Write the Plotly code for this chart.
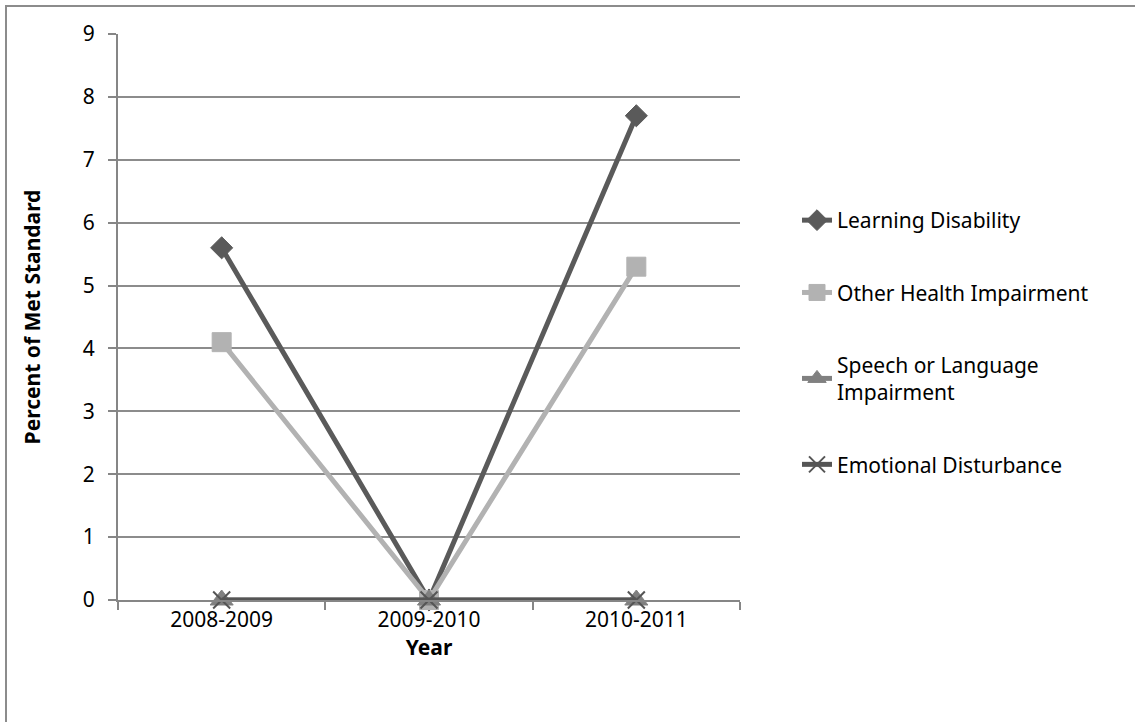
import plotly.graph_objects as go

years = ["2008-2009", "2009-2010", "2010-2011"]
learning_disability = [5.6, 0, 7.7]
other_health = [4.1, 0, 5.3]
speech_language = [0, 0, 0]
emotional = [0, 0, 0]

W, H = 1135, 722
ML, MR, MT, MB = 118, 395, 34, 122

series = [
    ("Learning Disability", learning_disability, "#5a5a5a", "diamond", 17, 1),
    ("Other Health Impairment", other_health, "#b2b2b2", "square", 19, 1),
    ("Speech or Language<br>Impairment", speech_language, "#808080", "triangle-up", 20, 1),
    ("Emotional Disturbance", emotional, "#555555", "x-thin", 17, 2),
]

fig = go.Figure()
for i, (name, vals, col, sym, sz, lw) in enumerate(series):
    fig.add_trace(go.Scatter(
        x=years, y=vals, name=name, mode="lines+markers",
        line=dict(color=col, width=5),
        marker=dict(symbol=sym, size=sz, color=col,
                    line=dict(color=col, width=lw)),
        legendgroup=f"g{i}", cliponaxis=False,
    ))

# outer frame around the whole chart
pw, ph = W - ML - MR, H - MT - MB
x0 = (6 - ML) / pw
y1 = (H - MB - 6) / ph
fig.add_shape(type="rect", xref="paper", yref="paper",
              x0=x0, x1=(W + 10 - ML) / pw, y0=-(MB + 10) / ph, y1=y1,
              line=dict(color="#8c8c8c", width=2), layer="below")

fig.update_layout(
    width=W, height=H,
    margin=dict(l=ML, r=MR, t=MT, b=MB),
    paper_bgcolor="white", plot_bgcolor="white",
    font=dict(family="Noto Sans, Open Sans, sans-serif", size=21, color="#000000"),
    legend=dict(x=(797 - ML) / pw, y=(H - MB - 200) / ph, xanchor="left", yanchor="top",
                tracegroupgap=42, font=dict(size=21),
                itemwidth=30),
    xaxis=dict(
        type="category", range=[-0.5, 2.5], tickson="boundaries",
        ticks="outside", ticklen=8, tickcolor="#868686", tickwidth=2,
        showline=True, linecolor="#868686", linewidth=2,
        showgrid=False, zeroline=False,
        title=dict(text="<b>Year</b>", font=dict(size=21), standoff=7),
        tickfont=dict(size=21),
    ),
    yaxis=dict(
        range=[0, 9], dtick=1, ticks="outside", ticklen=8,
        tickcolor="#868686", tickwidth=2, ticklabelstandoff=9,
        showline=True, linecolor="#868686", linewidth=2,
        showgrid=True, gridcolor="#8c8c8c", gridwidth=2,
        zeroline=False,
        title=dict(text="<b>Percent of Met Standard</b>", font=dict(size=21), standoff=36),
        tickfont=dict(size=21),
    ),
)

fig.write_html("out.html")
